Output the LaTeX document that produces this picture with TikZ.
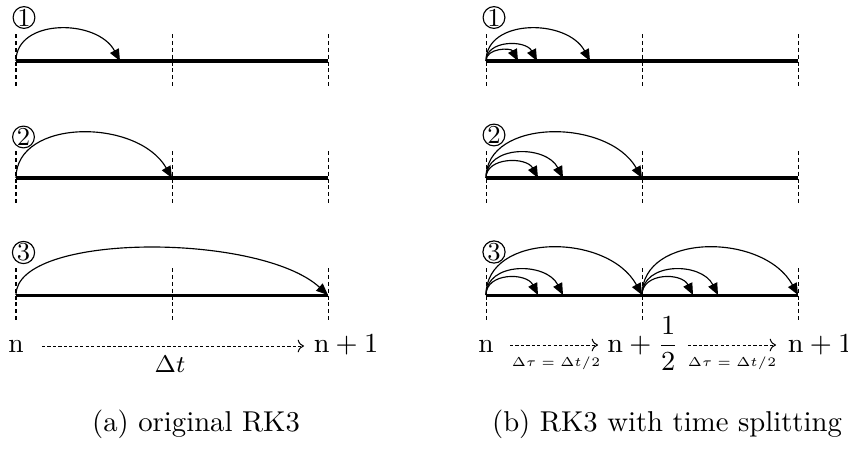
\documentclass[tikz,border=0pt]{standalone}
\usepackage{fix-cm}
\usetikzlibrary{arrows.meta}
\tikzset{
  bar/.style={line width=1.05pt},
  guide/.style={line width=0.35pt, dash pattern=on 1.4pt off 1.0pt},
  jumparc/.style={line width=0.4pt, -{Triangle[length=4.1pt,width=3.4pt]}},
  timearrow/.style={line width=0.35pt, dash pattern=on 1.1pt off 0.8pt, -{To[length=2.2pt,width=4.4pt]}},
  stagenum/.style={circle, draw, line width=0.4pt, inner sep=0pt, minimum size=7.6pt, font=\fontsize{9}{10}\selectfont},
  lbl/.style={font=\fontsize{9.6}{11}\selectfont, anchor=base, inner sep=0pt},
  dtlbl/.style={font=\fontsize{8.4}{10}\selectfont, anchor=base, inner sep=0pt},
  smalllbl/.style={font=\fontsize{4.5}{5.5}\selectfont, anchor=base, inner sep=0pt},
  captxt/.style={font=\fontsize{10}{12}\selectfont, anchor=base, inner sep=0pt},
}
\begin{document}
\begin{tikzpicture}[x=0.3484pt,y=-0.3484pt]
\useasboundingbox (0,0) rectangle (848,449);
% guides and bars
\foreach \yb in {61,178,295}{
  \foreach \x in {16,172,328,486,642,798}
    \draw[guide] (\x,\yb-27) -- (\x,\yb+27);
  \draw[bar] (16,\yb) -- (328,\yb);
  \draw[bar] (486,\yb) -- (798,\yb);
}
% stage numbers
\node[stagenum] (l1) at (24,17.5) {1};
\node[stagenum] (l2) at (23.5,137) {2};
\node[stagenum] (l3) at (23.5,252.5) {3};
\node[stagenum] (r1) at (494,17.5) {1};
\node[stagenum] (r2) at (494,135) {2};
\node[stagenum] (r3) at (494,252) {3};
% jumps
\foreach \xs/\xe/\yb/\h in {16/120/61/32, 16/172/178/45, 16/328/295/47,
  486/518/61/10, 486/537/61/16, 486/590/61/32,
  486/538/178/16, 486/563/178/25, 486/642/178/45,
  486/538/295/17, 486/563/295/25, 486/642/295/47,
  642/693/295/17, 642/718/295/25, 642/798/295/47}
  \draw[jumparc] (\xs,\yb) .. controls (\xs,{\yb-1.333*\h}) and ({\xe-0.22*(\xe-\xs)},{\yb-1.333*\h}) .. (\xe,\yb);
% time labels (a)
\node[lbl] (na) at (16,352) {n};
\node[lbl] (n1a) at (346,352) {$\mathrm{n}+1$};
\coordinate (as) at (42,346);
\coordinate (ae) at (304,346);
\draw[timearrow] (as) -- (ae);
\node[dtlbl] (dta) at (170,372) {$\Delta t$};
% time labels (b)
\node[lbl] (nb) at (486,352) {n};
\node[lbl] (nhb) at (643,352) {$\mathrm{n}+\displaystyle\frac{1}{2}$};
\node[lbl] (n1b) at (820,352) {$\mathrm{n}+1$};
\coordinate (bs1) at (510,345);
\coordinate (be1) at (598,345);
\coordinate (bs2) at (688,345);
\coordinate (be2) at (776,345);
\draw[timearrow] (bs1) -- (be1);
\draw[timearrow] (bs2) -- (be2);
\node[smalllbl] (dtb1) at (556,366) {$\Delta\tau=\Delta t/2$};
\node[smalllbl] (dtb2) at (732,366) {$\Delta\tau=\Delta t/2$};
% captions
\node[captxt] (capa) at (196,431) {(a) original RK3};
\node[captxt] (capb) at (667,431) {(b) RK3 with time splitting};
\end{tikzpicture}
\end{document}
